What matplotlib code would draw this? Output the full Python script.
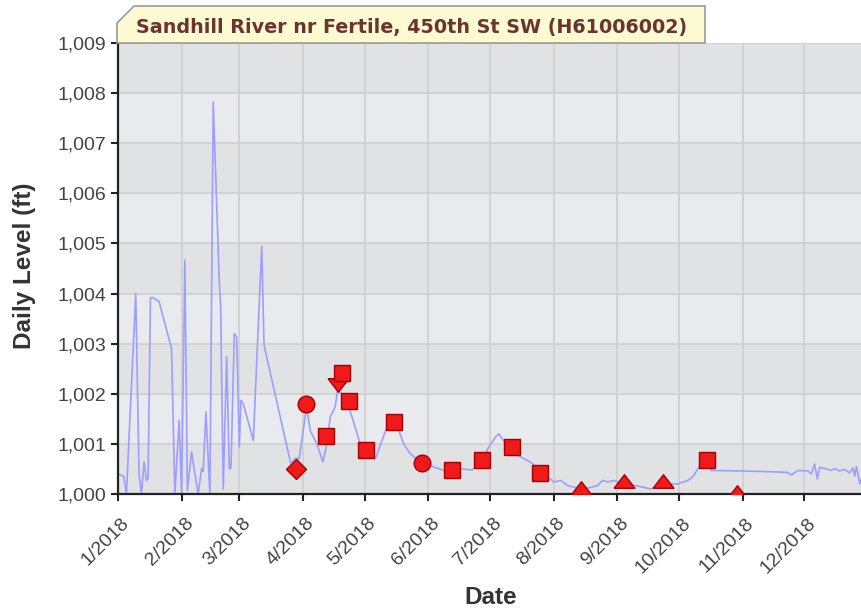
import numpy as np
import matplotlib
matplotlib.use("Agg")
import matplotlib.pyplot as plt
import matplotlib.transforms as mtrans
from matplotlib.path import Path
from matplotlib.patches import Polygon
from matplotlib.ticker import FuncFormatter

# daily level trace (day of year 2018, level in ft)
line_day = [0.0, 1.66, 2.78, 4.10, 8.63, 10.24, 11.41, 12.68, 13.85, 14.63,
            15.80, 17.07, 20.0, 26.05, 27.66, 29.76, 30.93, 32.54, 33.76, 35.80,
            37.41, 39.02, 40.68, 41.46, 42.78, 44.73, 46.34, 49.27, 49.95, 51.22,
            52.88, 54.15, 54.98, 56.59, 57.76, 59.02, 59.85, 60.98, 65.85, 69.95,
            71.07, 84.0, 86.68, 88.15, 91.07, 91.80, 93.51, 96.78, 99.71, 101.66,
            103.27, 105.71, 106.83, 110.59, 113.85, 117.90, 121.17, 125.22, 128.49, 130.93,
            136.59, 139.02, 142.29, 147.17, 153.66, 158.54, 167.51, 172.39, 177.27, 180.49,
            183.76, 185.37, 187.02, 191.07, 195.95, 199.22, 201.32, 207.32, 212.20, 215.46,
            218.73, 225.22, 230.10, 233.37, 235.80, 238.24, 241.46, 245.56, 251.22, 255.32,
            259.37, 264.24, 269.12, 272.39, 277.27, 279.71, 282.15, 284.24, 286.68, 288.63,
            303.27, 321.17, 326.05, 327.66, 330.93, 335.80, 337.41, 339.02, 340.34, 341.46,
            343.76, 347.17, 348.78, 351.07, 353.51, 355.95, 357.76, 358.54, 359.37, 360.98,
            362.78]
line_level = [1000.40, 1000.37, 1000.35, 1000.00, 1004.00, 1000.40, 1000.00, 1000.64, 1000.27, 1000.31,
              1003.92, 1003.92, 1003.84, 1002.90, 1000.00, 1001.47, 1000.00, 1004.67, 1000.07, 1000.84,
              1000.41, 1000.00, 1000.51, 1000.45, 1001.64, 1000.00, 1007.82, 1004.27, 1003.74, 1000.10,
              1002.74, 1000.50, 1000.52, 1003.20, 1003.13, 1000.94, 1001.87, 1001.80, 1001.07, 1004.94,
              1002.97, 1000.62, 1000.72, 1000.70, 1001.54, 1001.75, 1001.27, 1001.00, 1000.64, 1001.00,
              1001.54, 1001.74, 1002.07, 1001.94, 1001.54, 1001.00, 1000.80, 1000.70, 1001.07, 1001.34,
              1001.27, 1001.00, 1000.80, 1000.64, 1000.54, 1000.47, 1000.50, 1000.48, 1000.67, 1000.94,
              1001.14, 1001.20, 1001.10, 1000.87, 1000.74, 1000.67, 1000.62, 1000.40, 1000.24, 1000.27,
              1000.17, 1000.10, 1000.13, 1000.17, 1000.27, 1000.24, 1000.27, 1000.20, 1000.17, 1000.14,
              1000.10, 1000.17, 1000.20, 1000.20, 1000.27, 1000.34, 1000.50, 1000.65, 1000.67, 1000.47,
              1000.46, 1000.44, 1000.43, 1000.38, 1000.47, 1000.46, 1000.40, 1000.60, 1000.30, 1000.53,
              1000.51, 1000.47, 1000.51, 1000.46, 1000.49, 1000.42, 1000.52, 1000.36, 1000.55, 1000.20,
              1000.45]

# field measurements
square_day = [101.17, 108.98, 112.2, 120.83, 134.49, 162.63, 177.27, 191.9, 205.37, 286.54]
square_level = [1001.15, 1002.42, 1001.86, 1000.87, 1001.44, 1000.47, 1000.67, 1000.94, 1000.42, 1000.67]
circle_day = [91.56, 148.0]
circle_level = [1001.79, 1000.62]
diamond_day = [86.68]
diamond_level = [1000.50]
tri_up_day = [225.2, 246.3, 265.1, 301.3]
tri_up_level = [1000.12, 1000.25, 1000.25, 1000.03]
tri_down_day = [107.02]
tri_down_level = [1002.17]

month_ticks = np.arange("2018-01", "2019-01", dtype="datetime64[M]")
month_labels = ["1/2018", "2/2018", "3/2018", "4/2018", "5/2018", "6/2018",
                "7/2018", "8/2018", "9/2018", "10/2018", "11/2018", "12/2018"]
title = "Sandhill River nr Fertile, 450th St SW (H61006002)"

start = np.datetime64("2018-01-01T00:00")
def to_dates(days):
    return start + (np.array(days) * 24 * 60).astype("timedelta64[m]")

W, H = 862, 612
fig = plt.figure(figsize=(W / 100, H / 100), dpi=100)
ax = fig.add_axes([118 / W, (H - 494) / H, 750 / W, 451 / H])

ax.set_facecolor("#e8eaee")
for lo in range(1000, 1009, 2):
    ax.axhspan(lo, lo + 1, color="#e1e2e4", zorder=0, lw=0)
ax.grid(True, color="#cfcfcf", lw=1.2, zorder=1)
ax.set_axisbelow(True)

ax.plot(to_dates(line_day), line_level, color="#9e9eff", lw=1.2, zorder=2)

face, edge = "#f01a1a", "#a30000"
tri_up = Path([(-1, -0.65), (1, -0.65), (0, 0.65), (-1, -0.65)])
tri_dn = Path([(-1, 0.65), (1, 0.65), (0, -0.65), (-1, 0.65)])
kw = dict(ls="none", mfc=face, mec=edge, mew=1.0, zorder=3)
ax.plot(to_dates(diamond_day), diamond_level, marker="D", ms=10, **kw)
ax.plot(to_dates(circle_day), circle_level, marker="o", ms=12, **kw)
ax.plot(to_dates(tri_down_day), tri_down_level, marker=tri_dn, ms=15, **kw)
ax.plot(to_dates(square_day), square_level, marker="s", ms=11.5, **kw)
ax.plot(to_dates(tri_up_day), tri_up_level, marker=tri_up, ms=15, **kw)

ax.set_ylim(1000, 1009)
ax.set_yticks(range(1000, 1010))
ax.yaxis.set_major_formatter(FuncFormatter(lambda v, p: f"{v:,.0f}"))
ax.set_xlim(start, np.datetime64("2019-01-01T00:00"))
ax.set_xticks(month_ticks.astype("datetime64[m]"))
ax.set_xticklabels(month_labels)

for s in ["top", "right"]:
    ax.spines[s].set_visible(False)
for s in ["left", "bottom"]:
    ax.spines[s].set_linewidth(1.6)
    ax.spines[s].set_color("#222222")
ax.tick_params(length=5, width=1.5, color="#222222", labelcolor="#444444",
               labelsize=14, labelfontfamily="Liberation Sans")
shift = mtrans.ScaledTranslation(0.03, -0.09, fig.dpi_scale_trans)
for lab in ax.get_xticklabels():
    lab.set_rotation(45)
    lab.set_ha("right")
    lab.set_va("top")
    lab.set_rotation_mode("anchor")
    lab.set_transform(lab.get_transform() + shift)

fig.text(25 / W, 1 - 266 / H, "Daily Level (ft)", rotation=90, ha="center", va="center",
         fontsize=17.5, fontweight="bold", family="Liberation Sans", color="#333333")
fig.text(491 / W, 1 - 598 / H, "Date", ha="center", va="center",
         fontsize=17.5, fontweight="bold", family="Liberation Sans", color="#333333")

# title tab with a clipped corner
pts = [(117, 43), (117, 23), (134, 6), (705, 6), (705, 43)]
fig.patches.append(Polygon([(x / W, 1 - y / H) for x, y in pts], closed=True,
                           transform=fig.transFigure, fc="#fdfbd2", ec="#9a9a9a", lw=1.2))
fig.text(412 / W, 1 - 28 / H, title, ha="center", va="center", fontsize=13.8,
         fontweight="bold", color="#6b3430")

fig.savefig("out.png", dpi=100)
